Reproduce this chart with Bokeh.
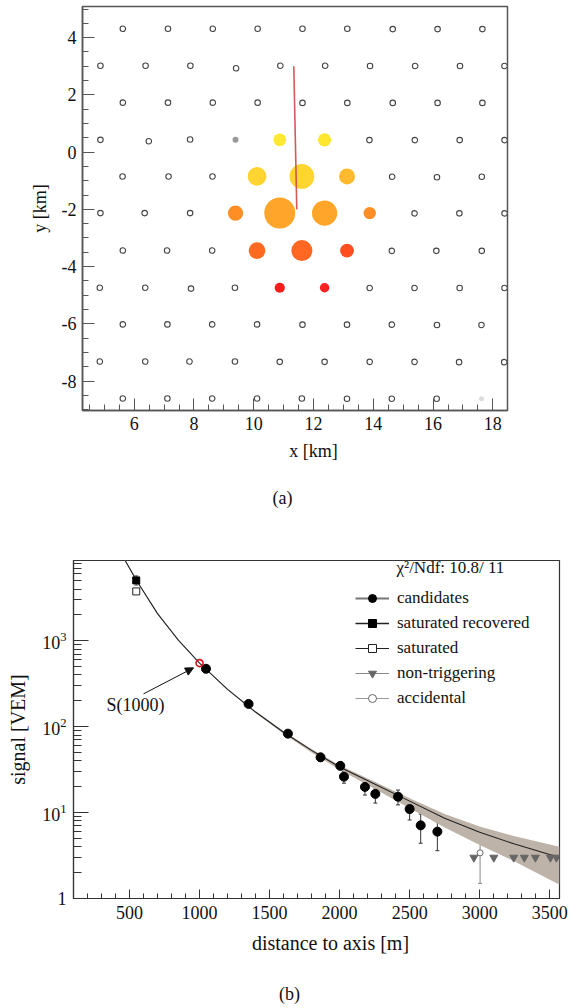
import math
from bokeh.plotting import figure
from bokeh.models import (ColumnDataSource, Label, Legend, LegendItem, Arrow, NormalHead,
                          Whisker, TeeHead, SingleIntervalTicker, FixedTicker,
                          PrintfTickFormatter, LogTickFormatter)
from bokeh.embed import file_html
from bokeh.resources import INLINE

SERIF = "Liberation Serif"

# ---------------- panel (a): array layout ----------------
station_x = [
    5.62, 7.13, 8.63, 10.13, 11.63, 13.13, 14.65, 16.15, 17.65,
    4.87, 6.38, 7.88, 9.41, 10.89, 12.39, 13.89, 15.40, 16.90, 18.39,
    5.62, 7.13, 8.63, 10.13, 11.63, 13.13, 14.65, 16.15, 17.65,
    4.87, 6.49, 7.87, 13.87, 15.39, 16.89, 18.39,
    5.61, 7.15, 8.62, 14.63, 16.13, 17.63,
    4.87, 6.35, 7.87, 15.38, 16.88, 18.39,
    5.62, 7.10, 8.61, 14.62, 16.11, 17.63,
    4.85, 6.37, 7.90, 9.37, 13.88, 15.38, 16.89, 18.39,
    5.62, 7.11, 8.61, 10.11, 11.63, 13.12, 14.62, 16.13, 17.62,
    4.85, 6.37, 7.85, 9.37, 10.87, 12.37, 13.88, 15.38, 16.87, 18.38,
    5.62, 7.11, 8.61, 10.11, 11.61, 13.12, 14.62, 16.12,
]
station_y = [
    4.31, 4.31, 4.31, 4.31, 4.31, 4.31, 4.30, 4.30, 4.30,
    3.02, 3.02, 3.02, 2.93, 3.02, 3.02, 3.01, 3.01, 3.01, 3.01,
    1.73, 1.73, 1.73, 1.73, 1.72, 1.72, 1.72, 1.72, 1.72,
    0.43, 0.38, 0.44, 0.42, 0.42, 0.42, 0.42,
    -0.85, -0.85, -0.85, -0.86, -0.88, -0.86,
    -2.13, -2.13, -2.13, -2.14, -2.14, -2.14,
    -3.44, -3.44, -3.44, -3.45, -3.45, -3.45,
    -4.74, -4.74, -4.77, -4.74, -4.75, -4.75, -4.75, -4.75,
    -6.02, -6.02, -6.02, -6.02, -6.03, -6.03, -6.03, -6.04, -6.04,
    -7.32, -7.32, -7.32, -7.32, -7.33, -7.33, -7.33, -7.33, -7.34, -7.34,
    -8.61, -8.61, -8.61, -8.61, -8.61, -8.62, -8.62, -8.62,
]

hit_x = [10.87, 12.37, 10.11, 11.61, 13.12, 9.39, 10.87, 12.37, 13.88,
         10.11, 11.61, 13.12, 10.87, 12.37]
hit_y = [0.43, 0.43, -0.85, -0.85, -0.85, -2.13, -2.13, -2.13, -2.13,
         -3.44, -3.44, -3.44, -4.74, -4.74]
hit_diam = [12.7, 13.3, 18.7, 24.7, 16.0, 15.3, 31.0, 25.3, 12.4,
            16.7, 21.0, 13.8, 10.2, 9.5]
hit_color = ["#ffe92e", "#ffe72e", "#ffd430", "#ffd530", "#ffba2e",
             "#ff8f25", "#ffa62a", "#ffa52a", "#ff8f25",
             "#ff6a22", "#ff6722", "#ff4e1f", "#ff1a1a", "#ff2222"]

silent_x = [9.39]
silent_y = [0.43]
off_x = [17.62]
off_y = [-8.62]

axis_x = [11.34, 11.44]
axis_y = [3.00, -2.00]

# ---------------- panel (b): lateral distribution ----------------
cand_r = [1046, 1350, 1631, 1864, 2005, 2031, 2181, 2255, 2417, 2500, 2579, 2698]
cand_s = [472, 184, 83, 44, 35, 26.2, 19.9, 16.5, 15.3, 11.0, 7.1, 6.0]
cand_lo = [458, 178, 80, 39.5, 32, 22, 16.0, 12.9, 12.3, 8.2, 4.4, 3.6]
cand_hi = [486, 190, 86, 47, 38, 30, 23.5, 19.3, 18.3, 13.8, 9.6, 8.4]

satrec_r = [548]
satrec_s = [5045]
satrec_lo = [4450]
satrec_hi = [5700]

sat_r = [548]
sat_s = [3756]

nontrig_r = [2959, 3101, 3243, 3319, 3398, 3505, 3548]
nontrig_s = [3.0, 3.0, 3.0, 3.0, 3.0, 3.0, 3.0]

acc_r = [3003]
acc_s = [3.4]
acc_lo = [1.5]
acc_hi = [5.2]

s1000_r = [1000]
s1000_s = [550]

fit_r = [469, 548, 700, 850, 1000, 1200, 1400, 1600, 1800, 2000, 2250, 2500, 2750, 3000, 3250, 3570]
fit_s = [8600, 5100, 2070, 1010, 550, 272, 148, 86, 53, 34, 21.5, 13.6, 8.6, 5.9, 4.3, 3.0]
band_hi = [8800, 5200, 2100, 1020, 553, 276, 151, 88.5, 55, 35.5, 22.8, 14.7, 9.6, 6.9, 5.3, 4.0]
band_lo = [8400, 5000, 2040, 1000, 547, 267, 144, 82.5, 50, 31.5, 19.0, 11.2, 6.7, 4.2, 2.7, 1.45]

ticks_b_y = [1, 10, 100, 1000]
minor_b_y = [m * d for d in (1, 10, 100, 1000) for m in range(2, 10)]

TXT = "#111111"


def caption_strip(height, texts):
    c = figure(width=571, height=height, x_range=(0, 1), y_range=(0, 1),
               x_axis_location=None, y_axis_location=None, output_backend="svg",
               toolbar_location=None, min_border=0)
    c.grid.visible = False
    c.outline_line_color = None
    for text, cx, cy, size in texts:
        c.add_layout(Label(x=cx, y=cy, x_units="screen", y_units="screen", text=text,
                           text_align="center", text_baseline="middle", text_font=SERIF,
                           text_font_size=size, text_color=TXT))
    return c


# =============== figure (a) ===============
p1 = figure(width=571, height=440, x_range=(4.27, 18.49), y_range=(-9.03, 5.09),
            output_backend="svg", toolbar_location=None,
            min_border_left=82, min_border_right=64, min_border_top=6, min_border_bottom=30)
p1.grid.visible = False
p1.outline_line_color = "#555555"
p1.outline_line_width = 1.5
p1.xaxis.ticker = SingleIntervalTicker(interval=2, num_minor_ticks=4)
p1.yaxis.ticker = SingleIntervalTicker(interval=2, num_minor_ticks=4)
for ax in (p1.xaxis[0], p1.yaxis[0]):
    ax.formatter = PrintfTickFormatter(format="%d")
    ax.axis_line_color = "#555555"
    ax.axis_line_width = 1.5
    ax.major_tick_in = 12
    ax.major_tick_out = 0
    ax.minor_tick_in = 6
    ax.minor_tick_out = 0
    ax.major_tick_line_color = "#555555"
    ax.minor_tick_line_color = "#555555"
    ax.major_label_text_font = SERIF
    ax.major_label_text_font_size = "18px"
    ax.major_label_text_color = TXT
    ax.major_label_standoff = 6
    ax.axis_label_text_font = SERIF
    ax.axis_label_text_font_size = "18px"
    ax.axis_label_text_font_style = "normal"
    ax.axis_label_text_color = TXT
p1.yaxis.axis_label = "y [km]"
p1.yaxis.axis_label_standoff = 9

p1.scatter(station_x, station_y, marker="circle", size=5.5, fill_color="white",
           line_color="#444444", line_width=1.1)
p1.scatter(silent_x, silent_y, marker="circle", size=6, fill_color="#999999", line_color=None)
p1.scatter(off_x, off_y, marker="circle", size=5, fill_color="#dddddd", line_color=None)
p1.scatter(x=hit_x, y=hit_y, size=hit_diam, marker="circle", fill_color=hit_color,
           line_color=None)
p1.line(axis_x, axis_y, line_color="#d04848", line_width=1.6, line_alpha=0.9)

cap_a = caption_strip(100, [("x [km]", 313, 90, "18px"), ("(a)", 282, 43, "18px")])

# =============== figure (b) ===============
p2 = figure(width=571, height=386, x_range=(100, 3570), y_range=(1, 8600),
            y_axis_type="log", output_backend="svg", toolbar_location=None,
            min_border_left=73, min_border_right=12, min_border_top=20, min_border_bottom=28)
p2.grid.visible = False
p2.outline_line_color = "#333333"
p2.outline_line_width = 1.2
p2.xaxis.ticker = SingleIntervalTicker(interval=500, num_minor_ticks=5)
p2.yaxis.ticker = FixedTicker(ticks=ticks_b_y, minor_ticks=minor_b_y)
p2.yaxis.formatter = LogTickFormatter(min_exponent=1)
for ax in (p2.xaxis[0], p2.yaxis[0]):
    ax.axis_line_color = "#333333"
    ax.axis_line_width = 1.2
    ax.major_tick_out = 0
    ax.minor_tick_out = 0
    ax.major_tick_line_color = "#333333"
    ax.minor_tick_line_color = "#333333"
    ax.major_label_text_font = SERIF
    ax.major_label_text_font_size = "18px"
    ax.major_label_text_color = TXT
    ax.major_label_standoff = 7
    ax.axis_label_text_font = SERIF
    ax.axis_label_text_font_size = "20px"
    ax.axis_label_text_font_style = "normal"
    ax.axis_label_text_color = TXT
p2.xaxis.major_tick_in = 9
p2.xaxis.minor_tick_in = 5
p2.yaxis.major_tick_in = 15
p2.yaxis.minor_tick_in = 8
p2.yaxis.axis_label = "signal [VEM]"
p2.yaxis.axis_label_standoff = 10

p2.varea(x=fit_r, y1=band_lo, y2=band_hi, fill_color="#beb3a9", fill_alpha=1.0)
p2.line(fit_r, fit_s, line_color="#222222", line_width=1.1)

cand_src = ColumnDataSource(dict(r=cand_r, s=cand_s, lo=cand_lo, hi=cand_hi))
p2.add_layout(Whisker(source=cand_src, base="r", upper="hi", lower="lo", dimension="height",
                      line_color="#333333", line_width=1,
                      upper_head=TeeHead(size=4, line_color="#333333"),
                      lower_head=TeeHead(size=4, line_color="#333333")))
satrec_src = ColumnDataSource(dict(r=satrec_r, s=satrec_s, lo=satrec_lo, hi=satrec_hi))
p2.add_layout(Whisker(source=satrec_src, base="r", upper="hi", lower="lo", dimension="height",
                      line_color="#555555", line_width=1,
                      upper_head=TeeHead(size=4, line_color="#555555"),
                      lower_head=TeeHead(size=4, line_color="#555555")))
acc_src = ColumnDataSource(dict(r=acc_r, s=acc_s, lo=acc_lo, hi=acc_hi))
p2.add_layout(Whisker(source=acc_src, base="r", upper="hi", lower="lo", dimension="height",
                      line_color="#888888", line_width=1,
                      upper_head=TeeHead(size=4, line_color="#888888"),
                      lower_head=TeeHead(size=4, line_color="#888888")))

r_cand = p2.scatter("r", "s", source=cand_src, marker="circle", size=9,
                    fill_color="black", line_color="black")
r_satrec = p2.scatter(satrec_r, satrec_s, marker="square", size=7,
                      fill_color="black", line_color="black")
r_sat = p2.scatter(sat_r, sat_s, marker="square", size=7, fill_color="white",
                   line_color="#222222", line_width=1)
r_nontrig = p2.scatter(nontrig_r, nontrig_s, marker="inverted_triangle", size=8,
                       fill_color="#666666", line_color="#666666")
r_acc = p2.scatter(acc_r, acc_s, marker="circle", size=6, fill_color="white",
                   line_color="#666666", line_width=1)
p2.scatter(s1000_r, s1000_s, marker="circle", size=7, fill_color=None,
           line_color="#e0101a", line_width=1.6)

# legend line stubs (single-point lines: nothing is drawn in the plot area)
l_cand = p2.line(x=cand_r[:1], y=cand_s[:1], line_color="#777777", line_width=2)
l_satrec = p2.line(x=satrec_r, y=satrec_s, line_color="#222222", line_width=1.5)
l_sat = p2.line(x=sat_r, y=sat_s, line_color="#222222", line_width=1)
l_nontrig = p2.line(x=nontrig_r[:1], y=nontrig_s[:1], line_color="#888888", line_width=1)
l_acc = p2.line(x=acc_r, y=acc_s, line_color="#999999", line_width=1)

legend = Legend(items=[
    LegendItem(label="candidates", renderers=[l_cand, r_cand]),
    LegendItem(label="saturated recovered", renderers=[l_satrec, r_satrec]),
    LegendItem(label="saturated", renderers=[l_sat, r_sat]),
    LegendItem(label="non-triggering", renderers=[l_nontrig, r_nontrig]),
    LegendItem(label="accidental", renderers=[l_acc, r_acc]),
], location=(282, 190), padding=0, margin=0, spacing=5, glyph_width=34, glyph_height=20,
    label_height=20, label_standoff=8, label_text_font=SERIF, label_text_font_size="17px",
    label_text_color=TXT, border_line_alpha=0, background_fill_alpha=0)
p2.add_layout(legend)

p2.add_layout(Label(x=323, y=331, x_units="screen", y_units="screen",
                    text="\u03c7\u00b2/Ndf: 10.8/ 11", text_align="left", text_baseline="middle",
                    text_font=SERIF, text_font_size="17px", text_color=TXT))

p2.add_layout(Arrow(end=NormalHead(size=8, fill_color="#111111", line_color="#111111",
                                   line_width=1),
                    x_start=600, y_start=241, x_end=957, y_end=484,
                    line_color="#111111", line_width=1))
p2.add_layout(Label(x=33, y=194, x_units="screen", y_units="screen", text="S(1000)",
                    text_align="left", text_baseline="middle", text_font=SERIF,
                    text_font_size="18px", text_color=TXT))

cap_b = caption_strip(82, [("distance to axis [m]", 330, 66, "20px"), ("(b)", 289, 15, "18px")])

open("out.html", "w").write(file_html([p1, cap_a, p2, cap_b], INLINE))
